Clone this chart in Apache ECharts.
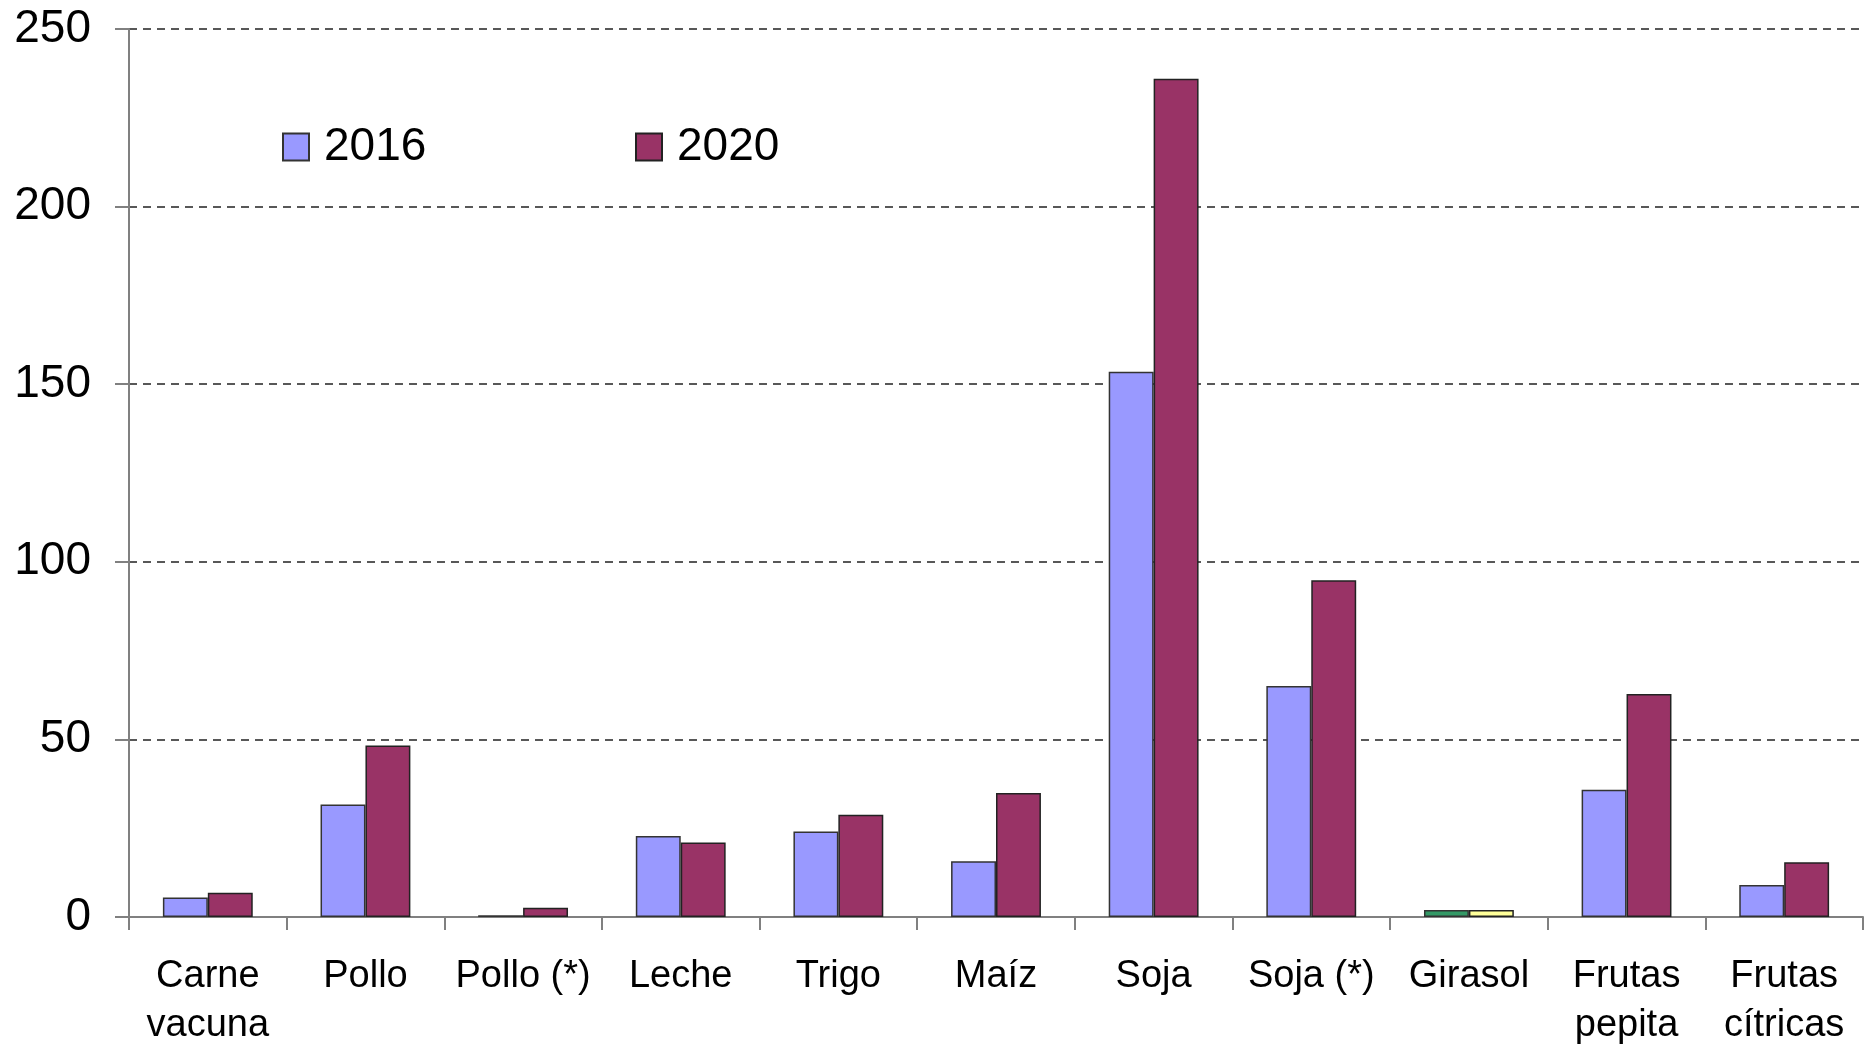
<!DOCTYPE html>
<html>
<head>
<meta charset="utf-8">
<script src="https://cdn.jsdelivr.net/npm/echarts@6/dist/echarts.min.js"></script>
<style>
  html, body { margin: 0; padding: 0; background: #fff; }
  #chart { width: 1867px; height: 1050px; }
</style>
</head>
<body>
<div id="chart"></div>
<script>
const categories = ['Carne\nvacuna', 'Pollo', 'Pollo (*)', 'Leche', 'Trigo', 'Maíz', 'Soja', 'Soja (*)', 'Girasol', 'Frutas\npepita', 'Frutas\ncítricas']
const values2016 = [5.5, 31.7, 0.5, 22.8, 24.1, 15.7, 153.5, 65, 2, 35.8, 9.0]
const values2020 = [6.8, 48.3, 2.6, 21.0, 28.8, 34.9, 236, 94.8, 2, 62.8, 15.4]
const yTicks = [0, 50, 100, 150, 200, 250]

// Girasol se pinta con otros colores en el original
const special2016 = {8: '#339966'}
const special2020 = {8: '#FFFF99'}

const buildData = (vals, special) => vals.map((v, i) =>
  special[i] ? {value: v, itemStyle: {color: special[i]}} : v)

const chart = echarts.init(document.getElementById('chart'))

const legendText = {
  color: '#000',
  fontSize: 46,
  fontFamily: 'Liberation Sans, Arial, sans-serif',
  lineHeight: 46,
  padding: [0, 0, 0, 10]
}

chart.setOption({
  animation: false,
  backgroundColor: '#fff',
  grid: {left: 129, right: 4, top: 29, bottom: 133},
  legend: [
    {
      data: ['2016'], left: 277, top: 119,
      icon: 'rect', itemWidth: 26, itemHeight: 27,
      textStyle: legendText
    },
    {
      data: ['2020'], left: 630, top: 119,
      icon: 'rect', itemWidth: 26, itemHeight: 27,
      textStyle: legendText
    }
  ],
  xAxis: {
    type: 'category',
    data: categories,
    axisLine: {lineStyle: {color: '#808080', width: 2}},
    axisTick: {show: true, length: 13, lineStyle: {color: '#808080', width: 2}},
    axisLabel: {
      color: '#000',
      fontSize: 38,
      fontFamily: 'Liberation Sans, Arial, sans-serif',
      lineHeight: 49,
      margin: 35,
      interval: 0
    }
  },
  yAxis: {
    type: 'value',
    min: yTicks[0],
    max: yTicks[yTicks.length - 1],
    interval: 50,
    axisLine: {show: true, lineStyle: {color: '#808080', width: 2}},
    axisTick: {show: true, length: 14, lineStyle: {color: '#808080', width: 2}},
    axisLabel: {
      color: '#000',
      fontSize: 46,
      fontFamily: 'Liberation Sans, Arial, sans-serif',
      margin: 38
    },
    splitLine: {
      show: true,
      lineStyle: {color: '#222', width: 1.5, type: [8, 6]}
    }
  },
  series: [
    {
      name: '2016',
      type: 'bar',
      data: buildData(values2016, special2016),
      barGap: '0%',
      barCategoryGap: '43%',
      itemStyle: {color: '#9999FF', borderColor: '#333', borderWidth: 1.5}
    },
    {
      name: '2020',
      type: 'bar',
      data: buildData(values2020, special2020),
      barGap: '0%',
      barCategoryGap: '43%',
      itemStyle: {color: '#993366', borderColor: '#222', borderWidth: 1.5}
    }
  ]
})
</script>
</body>
</html>
